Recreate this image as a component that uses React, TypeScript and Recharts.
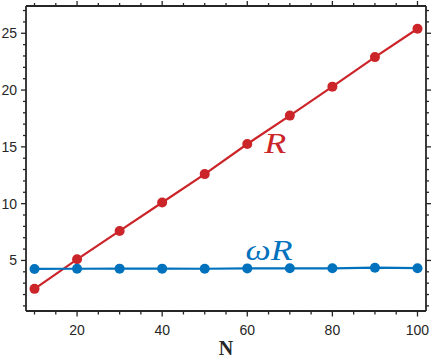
import React from 'react';
import { LineChart, Line, XAxis, YAxis, ReferenceDot, Label } from 'recharts';

const N = [10, 20, 30, 40, 50, 60, 70, 80, 90, 100];
const R = [2.5, 5.1, 7.6, 10.1, 12.6, 15.25, 17.75, 20.3, 22.9, 25.4];
const wR = [4.25, 4.27, 4.28, 4.28, 4.27, 4.3, 4.31, 4.31, 4.36, 4.32];

const xTicks = [10, 15, 20, 25, 30, 35, 40, 45, 50, 55, 60, 65, 70, 75, 80, 85, 90, 95, 100];
const xMajor = [20, 40, 60, 80, 100];
const yTicks = [1, 2, 3, 4, 5, 6, 7, 8, 9, 10, 11, 12, 13, 14, 15, 16, 17, 18, 19, 20, 21, 22, 23, 24, 25, 26, 27];
const yMajor = [5, 10, 15, 20, 25];

const xDomain = [8, 102];
const yDomain = [0.55, 27.4];

const RED = '#cc2529';
const BLUE = '#0072bd';
const INK = '#262626';

const data = N.map((n, i) => ({ N: n, R: R[i], wR: wR[i] }));

const BottomTick = (props: any) => {
  const { x, y, payload } = props;
  const major = xMajor.includes(payload.value);
  return (
    <g>
      <line x1={x} y1={y} x2={x} y2={y + (major ? 5.5 : 3.5)} stroke={INK} strokeWidth={1.3} />
      {major && (
        <text x={x} y={y + 24} textAnchor="middle" fontFamily="Liberation Sans, Arial, sans-serif" fontSize={14} fill={INK}>
          {payload.value}
        </text>
      )}
    </g>
  );
};

const TopTick = (props: any) => {
  const { x, y, payload } = props;
  const major = xMajor.includes(payload.value);
  return <line x1={x} y1={y} x2={x} y2={y - (major ? 5 : 3)} stroke={INK} strokeWidth={1.3} />;
};

const LeftTick = (props: any) => {
  const { x, y, payload } = props;
  const major = yMajor.includes(payload.value);
  return (
    <g>
      <line x1={x} y1={y} x2={x - (major ? 5 : 3)} y2={y} stroke={INK} strokeWidth={1.3} />
      {major && (
        <text x={x - 9} y={y + 5} textAnchor="end" fontFamily="Liberation Sans, Arial, sans-serif" fontSize={14} fill={INK}>
          {payload.value}
        </text>
      )}
    </g>
  );
};

const RightTick = (props: any) => {
  const { x, y, payload } = props;
  const major = yMajor.includes(payload.value);
  return <line x1={x} y1={y} x2={x + (major ? 5 : 3)} y2={y} stroke={INK} strokeWidth={1.3} />;
};

const TextMark = (txt: string, color: string, len: number) => (props: any) => (
  <text
    x={props.cx}
    y={props.cy}
    fill={color}
    fontFamily="Liberation Serif, Times New Roman, serif"
    fontStyle="italic"
    fontSize={29}
    textLength={len}
    lengthAdjust="spacingAndGlyphs"
  >
    {txt}
  </text>
);

export default function App() {
  return (
    <div style={{ position: 'absolute', left: 0, top: 0 }}>
      <LineChart width={432} height={358} data={data} margin={{ top: 0, right: 0, bottom: 0, left: 0 }}>
        <XAxis
          dataKey="N"
          type="number"
          domain={xDomain}
          ticks={xTicks}
          interval={0}
          allowDataOverflow
          height={47}
          tickSize={0}
          tickMargin={0}
          tick={<BottomTick />}
          axisLine={{ stroke: INK, strokeWidth: 1.8 }}
          tickLine={false}
        >
          <Label
            content={(p: any) => {
              const vb = p.viewBox;
              return (
                <text x={vb.x + vb.width / 2} y={vb.y + vb.height - 3} textAnchor="middle" fontFamily="Liberation Serif, Times New Roman, serif" fontWeight="bold" fontSize={20} fill={INK}>
                  N
                </text>
              );
            }}
          />
        </XAxis>
        <XAxis
          xAxisId="top"
          orientation="top"
          dataKey="N"
          type="number"
          domain={xDomain}
          ticks={xTicks}
          interval={0}
          allowDataOverflow
          height={6}
          tickSize={0}
          tickMargin={0}
          tick={<TopTick />}
          axisLine={{ stroke: INK, strokeWidth: 1.8 }}
          tickLine={false}
        />
        <YAxis
          type="number"
          domain={yDomain}
          ticks={yTicks}
          interval={0}
          allowDataOverflow
          width={26}
          tickSize={0}
          tickMargin={0}
          tick={<LeftTick />}
          axisLine={{ stroke: INK, strokeWidth: 1.8 }}
          tickLine={false}
        />
        <YAxis
          yAxisId="right"
          orientation="right"
          type="number"
          domain={yDomain}
          ticks={yTicks}
          interval={0}
          allowDataOverflow
          width={6}
          tickSize={0}
          tickMargin={0}
          tick={<RightTick />}
          axisLine={{ stroke: INK, strokeWidth: 1.8 }}
          tickLine={false}
        />
        <Line
          xAxisId="top"
          yAxisId="right"
          dataKey="R"
          stroke="none"
          dot={false}
          activeDot={false}
          isAnimationActive={false}
        />
        <Line
          dataKey="R"
          stroke={RED}
          strokeWidth={2.2}
          dot={{ r: 5, fill: RED, stroke: RED, strokeWidth: 0 }}
          activeDot={false}
          isAnimationActive={false}
        />
        <Line
          dataKey="wR"
          stroke={BLUE}
          strokeWidth={2.2}
          dot={{ r: 5, fill: BLUE, stroke: BLUE, strokeWidth: 0 }}
          activeDot={false}
          isAnimationActive={false}
        />
        <ReferenceDot x={64} y={14.45} r={0} shape={TextMark('R', RED, 22)} />
        <ReferenceDot x={59.6} y={5.0} r={0} shape={TextMark('ωR', BLUE, 47)} />
      </LineChart>
    </div>
  );
}
